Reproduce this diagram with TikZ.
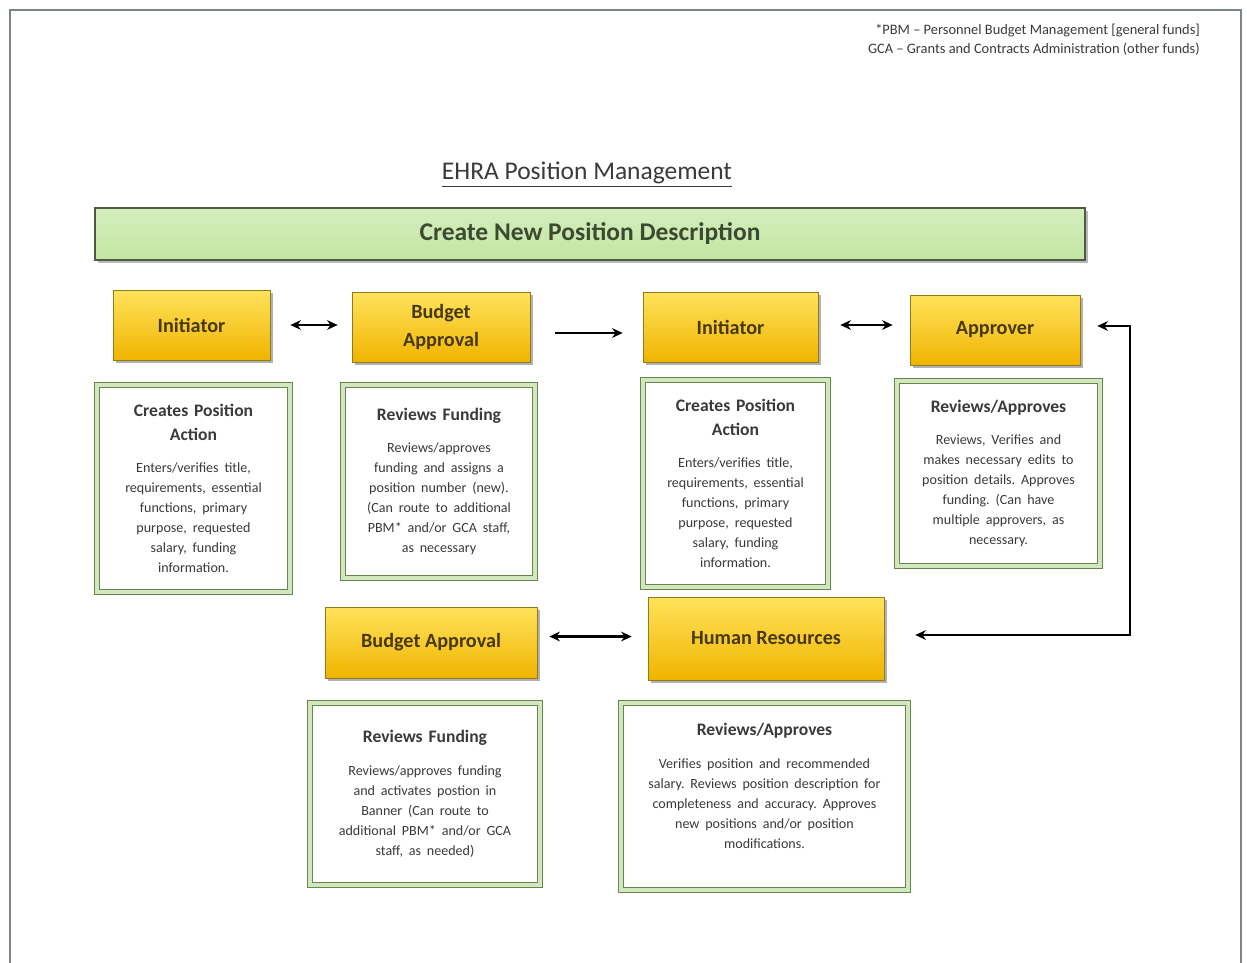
\documentclass[tikz,border=0pt]{standalone}
\usepackage{fontspec}
\setmainfont{Carlito}
\usetikzlibrary{arrows.meta,shadows}

\definecolor{pagegray}{HTML}{7A857C}
\definecolor{bannergreen}{HTML}{C3E6A2}
\definecolor{bannerdark}{HTML}{4E5A44}
\definecolor{bannertext}{HTML}{3B4A30}
\definecolor{goldtop}{HTML}{FFE35C}
\definecolor{goldbot}{HTML}{F0B400}
\definecolor{goldedge}{HTML}{8F7A1C}
\definecolor{goldtext}{HTML}{473810}
\definecolor{framegreen}{HTML}{66864A}
\definecolor{framelight}{HTML}{D2E7BF}
\definecolor{inkgray}{HTML}{3A3A3A}

\newcommand{\pxunit}{0.02cm}
\newcommand{\headfont}{\fontsize{10}{13.5}\selectfont\bfseries}
\newcommand{\bodyfont}{\fontsize{8}{11.4}\selectfont}
\newcommand{\tasktext}[2]{{\headfont #1\par}\vspace{7pt}{\bodyfont #2\par}}

\tikzset{
	rolebox/.style={draw=goldedge, top color=goldtop, bottom color=goldbot, align=center,
		font=\fontsize{11.5}{16}\selectfont\bfseries, text=goldtext, inner sep=0pt,
		drop shadow={shadow xshift=1.6pt, shadow yshift=-1.6pt, fill=black!60}},
	taskbox/.style={draw=framegreen, double=framelight, double distance=1.8pt, line width=0.7pt,
		fill=white, align=center, text=inkgray, inner sep=0pt,
		drop shadow={shadow xshift=1.4pt, shadow yshift=-1.4pt, fill=framegreen!70!black}},
	flow/.style={line width=1.2pt, {Stealth[length=6pt,width=5.5pt]}-{Stealth[length=6pt,width=5.5pt]}},
	oneway/.style={line width=1.2pt, -{Stealth[length=6pt,width=5.5pt]}},
}

\begin{document}
\frenchspacing
\begin{tikzpicture}[x=\pxunit, y=-\pxunit]
				\useasboundingbox (0,0) rectangle (1247,963);
				% Page edge
				\draw [pagegray, line width=1.2pt] (10,975) -- (10,10) -- (1241,10) -- (1241,975);
				% Note on the funding units
				\node [anchor=north east, align=right, text=inkgray, font=\fontsize{8.2}{10.5}\selectfont] (note) at (1206,18)
					{*PBM -- Personnel Budget Management [general funds]\\GCA -- Grants and Contracts Administration (other funds)};
				% Heading and banner
				\node [text=inkgray, font=\fontsize{14.5}{17}\selectfont] (title) at (587,175) {\underline{EHRA Position Management}};
				\node [draw=bannerdark, line width=1pt, top color=bannergreen!70!white, bottom color=bannergreen, minimum width=19.8cm, minimum height=1.04cm,
					text=bannertext, font=\fontsize{14.5}{17}\selectfont\bfseries, drop shadow={shadow xshift=1.6pt, shadow yshift=-1.6pt, fill=black!55}]
					(banner) at (590,234) {Create New Position Description};
				% Top row of roles
				\node [rolebox, minimum width=3.14cm, minimum height=1.4cm] (init1) at (191.5,325) {Initiator};
				\node [rolebox, minimum width=3.56cm, minimum height=1.4cm] (budget1) at (441,327) {Budget\\Approval};
				\node [rolebox, minimum width=3.5cm, minimum height=1.4cm] (init2) at (730.5,327) {Initiator};
				\node [rolebox, minimum width=3.4cm, minimum height=1.4cm] (approver) at (995,330) {Approver};
				% Bottom row of roles
				\node [rolebox, minimum width=4.24cm, minimum height=1.42cm] (budget2) at (431,642.5) {Budget Approval};
				\node [rolebox, minimum width=4.72cm, minimum height=1.66cm] (hr) at (766,638.5) {Human Resources};
				% What each role does
				\node [taskbox, minimum width=3.86cm, minimum height=4.14cm, text width=3.5cm] (task1) at (193.5,488.5)
					{\tasktext{Creates Position\\Action}{Enters/verifies title,\\requirements, essential\\functions, primary\\purpose, requested\\salary, funding\\information.}};
				\node [taskbox, minimum width=3.84cm, minimum height=3.86cm, text width=3.5cm] (task2) at (439,481.5)
					{\tasktext{Reviews Funding}{Reviews/approves\\funding and assigns a\\position number (new).\\(Can route to additional\\PBM* and/or GCA staff,\\as necessary}};
				\node [taskbox, minimum width=3.7cm, minimum height=4.14cm, text width=3.4cm] (task3) at (735.5,483.5)
					{\tasktext{Creates Position\\Action}{Enters/verifies title,\\requirements, essential\\functions, primary\\purpose, requested\\salary, funding\\information.}};
				\node [taskbox, minimum width=4.06cm, minimum height=3.7cm, text width=3.7cm] (task4) at (998.5,473.5)
					{\tasktext{Reviews/Approves}{Reviews, Verifies and\\makes necessary edits to\\position details. Approves\\funding. (Can have\\multiple approvers, as\\necessary.}};
				\node [taskbox, minimum width=4.6cm, minimum height=3.64cm, text width=4.2cm] (task5) at (425,794)
					{\tasktext{Reviews Funding}{Reviews/approves funding\\and activates postion in\\Banner (Can route to\\additional PBM* and/or GCA\\staff, as needed)}};
				\node [taskbox, minimum width=5.74cm, minimum height=3.74cm, text width=5.3cm] (task6) at (764.5,796.5)
					{\tasktext{Reviews/Approves}{Verifies position and recommended\\salary. Reviews position description for\\completeness and accuracy. Approves\\new positions and/or position\\modifications.}\vspace{12pt}};
				% Hand-offs between roles
				\draw [flow, shorten <=0.4cm, shorten >=0.28cm] (init1.east) -- (init1.east -| budget1.west);
				\draw [oneway, shorten <=0.5cm, shorten >=0.4cm] ([yshift=-0.12cm]budget1.east) -- ([yshift=-0.12cm]budget1.east -| init2.west);
				\draw [flow, shorten <=0.44cm, shorten >=0.34cm] ([yshift=0.04cm]init2.east) -- ([yshift=0.04cm]init2.east -| approver.west);
				\draw [flow, shorten <=0.24cm, shorten >=0.32cm] ([yshift=0.12cm]budget2.east) -- ([yshift=0.12cm]budget2.east -| hr.west);
				% Return path from HR up to the approver
				\coordinate (corner) at (1130,635);
				\draw [flow, shorten <=0.62cm, shorten >=0.34cm] (hr.east |- corner) -- (corner) |- ([yshift=0.08cm]approver.east);
\end{tikzpicture}
\end{document}
